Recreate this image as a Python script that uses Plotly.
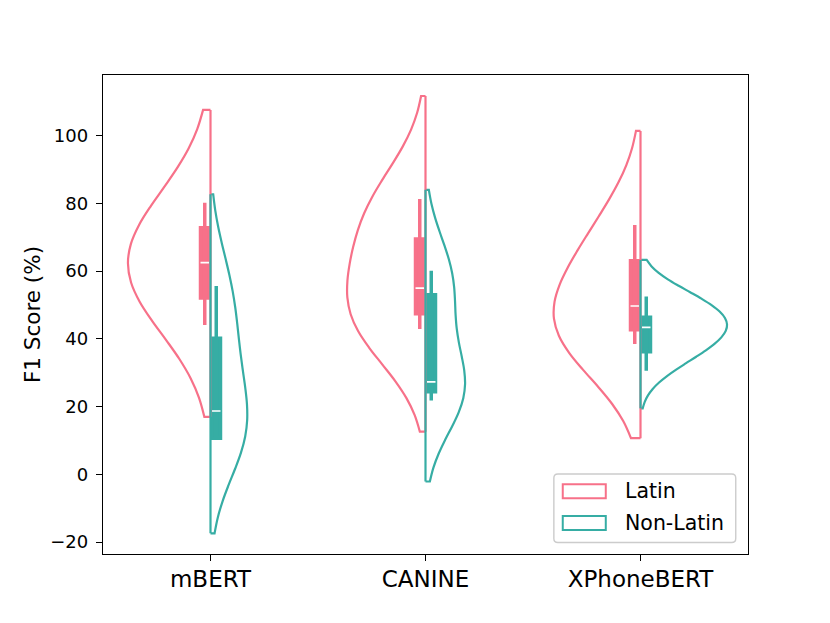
import plotly.graph_objects as go

models = ["mBERT", "CANINE", "XPhoneBERT"]

# F1 scores per language (estimated from the violin shapes)
mbert_latin = [49.7, 50.4, 52.1, 52.1, 58.5, 58.9, 62.5, 62.5, 67.4, 72.8, 74.2, 75.7, 80.2]
mbert_nonlatin = [10.7, 10.7, 10.7, 10.7, 12.4, 18.9, 18.9, 35.8, 35.9, 40.1, 55.6, 55.6, 55.6]
canine_latin = [44.1, 44.1, 44.1, 46.9, 46.9, 46.9, 54.6, 69.9, 69.9, 69.9, 81.3, 81.3, 81.3]
canine_nonlatin = [23.4, 23.6, 23.8, 24.4, 24.4, 24.4, 27.3, 39.5, 53.3, 53.3, 60.1, 60.1, 60.1]
xphone_latin = [38.5, 38.5, 38.5, 42.4, 42.4, 42.4, 49.7, 49.7, 51.5, 63.2, 70.9, 71.2, 71.7]
xphone_nonlatin = [30.6, 36.5, 36.5, 36.5, 42.9, 42.9, 43.4, 44.3, 46.5, 46.5, 52.4, 52.5, 52.5]

# kde bandwidth and extent of each violin
latin_bw = [17.55, 15.19, 15.46]
nonlatin_bw = [14.68, 12.91, 5.86]
latin_span = [(17.0, 107.6), (12.6, 111.7), (10.7, 101.4)]
nonlatin_span = [(-17.4, 82.7), (-2.1, 84.0), (19.5, 63.3)]

# inner box stats
latin_low = [44.1, 42.9, 38.5]
latin_q1 = [52.1, 47.4, 42.7]
latin_median = [62.5, 55.0, 49.7]
latin_q3 = [72.8, 69.5, 63.1]
latin_high = [80.2, 81.3, 73.6]

nonlatin_low = [10.2, 21.8, 30.6]
nonlatin_q1 = [10.7, 24.4, 36.2]
nonlatin_median = [18.7, 27.3, 43.4]
nonlatin_q3 = [40.2, 53.0, 46.4]
nonlatin_high = [55.6, 60.1, 52.5]

PINK = "#f77189"
TEAL = "#36ada4"
FONT = "DejaVu Sans"

# violin widths (full width, category units) so the peaks match
latin_width = [0.768, 0.727, 0.805]
nonlatin_width = [0.341, 0.368, 0.805]

fig = go.Figure()

groups = [
    ("Latin", "negative", PINK, [mbert_latin, canine_latin, xphone_latin], latin_bw, latin_span, latin_width),
    ("Non-Latin", "positive", TEAL, [mbert_nonlatin, canine_nonlatin, xphone_nonlatin],
     nonlatin_bw, nonlatin_span, nonlatin_width),
]

for name, side, color, samples, bws, spans, widths in groups:
    for i, model in enumerate(models):
        fig.add_trace(go.Violin(
            x=[model] * len(samples[i]),
            y=samples[i],
            name=name,
            showlegend=False,
            side=side,
            bandwidth=bws[i],
            spanmode="manual",
            span=list(spans[i]),
            width=widths[i],
            scalemode="width",
            scalegroup=name + model,
            line=dict(color=color, width=2.2),
            fillcolor="rgba(0,0,0,0)",
            points=False,
            box_visible=False,
            meanline_visible=False,
            hoverinfo="skip",
        ))

# the straight split edge of each half violin
for name, side, color, samples, bws, spans, widths in groups:
    xs, ys = [], []
    for model, (lo, hi) in zip(models, spans):
        xs += [model, model, None]
        ys += [lo, hi, None]
    fig.add_trace(go.Scatter(x=xs, y=ys, mode="lines", line=dict(color=color, width=2.2),
                             showlegend=False, hoverinfo="skip"))

boxes = [
    ("Latin", PINK, latin_low, latin_q1, latin_median, latin_q3, latin_high),
    ("Non-Latin", TEAL, nonlatin_low, nonlatin_q1, nonlatin_median, nonlatin_q3, nonlatin_high),
]

for name, color, low, q1, med, q3, high in boxes:
    fig.add_trace(go.Box(
        x=models, q1=q1, median=med, q3=q3, lowerfence=low, upperfence=high,
        offsetgroup=name, name=name, showlegend=False,
        fillcolor=color, line=dict(color=color, width=3.5),
        whiskerwidth=0, boxpoints=False, hoverinfo="skip",
    ))
    # white median tick
    fig.add_trace(go.Box(
        x=models, q1=med, median=med, q3=med, lowerfence=med, upperfence=med,
        offsetgroup=name, name=name, showlegend=False,
        fillcolor="white", line=dict(color="white", width=1.6),
        whiskerwidth=0, boxpoints=False, hoverinfo="skip",
    ))

# legend in the lower right, matplotlib style
fx0, fx1, fy0, fy1 = 0.699, 0.981, 0.024, 0.167
rx, ry = 0.0062, 0.0084
frame = (f"M{fx0 + rx},{fy0} L{fx1 - rx},{fy0} Q{fx1},{fy0} {fx1},{fy0 + ry} "
         f"L{fx1},{fy1 - ry} Q{fx1},{fy1} {fx1 - rx},{fy1} L{fx0 + rx},{fy1} "
         f"Q{fx0},{fy1} {fx0},{fy1 - ry} L{fx0},{fy0 + ry} Q{fx0},{fy0} {fx0 + rx},{fy0} Z")
shapes = [dict(type="path", path=frame, xref="paper", yref="paper",
               fillcolor="rgba(255,255,255,0.8)", line=dict(color="#cccccc", width=1.4))]
annotations = []
legend_rows = [("Latin", PINK, 0.1309), ("Non-Latin", TEAL, 0.0647)]
for label, color, yc in legend_rows:
    shapes.append(dict(type="rect", xref="paper", yref="paper",
                       x0=0.7128, x1=0.7795, y0=yc - 0.0146, y1=yc + 0.0146,
                       fillcolor="white", line=dict(color=color, width=2)))
    annotations.append(dict(text=label, xref="paper", yref="paper", x=0.806, y=yc,
                            xanchor="left", yanchor="middle", showarrow=False,
                            font=dict(size=20.5, family=FONT, color="black")))

axis_common = dict(
    showline=True, mirror=True, linecolor="black", linewidth=1.4,
    ticks="outside", ticklen=6, tickcolor="black", tickwidth=1.4,
    showgrid=False, zeroline=False,
)

# the page has an 8px body margin, so the figure is 16px smaller than the window
fig.update_layout(
    width=814, height=607,
    margin=dict(l=95, r=74, t=67, b=61),
    paper_bgcolor="white", plot_bgcolor="white",
    font=dict(family=FONT, color="black"),
    showlegend=False,
    violinmode="overlay",
    boxmode="group", boxgap=0.893, boxgroupgap=0.263,
    xaxis=dict(type="category", categoryorder="array", categoryarray=models,
               range=[-0.5, 2.5], tickfont=dict(size=23), ticklabelstandoff=-2,
               **axis_common),
    yaxis=dict(range=[-23.5, 117.9], tickvals=[-20, 0, 20, 40, 60, 80, 100],
               tickfont=dict(size=18), ticklabelstandoff=4,
               title=dict(text="F1 Score (%)", font=dict(size=21.5), standoff=3),
               **axis_common),
    shapes=shapes,
    annotations=annotations,
)

fig.write_html("out.html")
